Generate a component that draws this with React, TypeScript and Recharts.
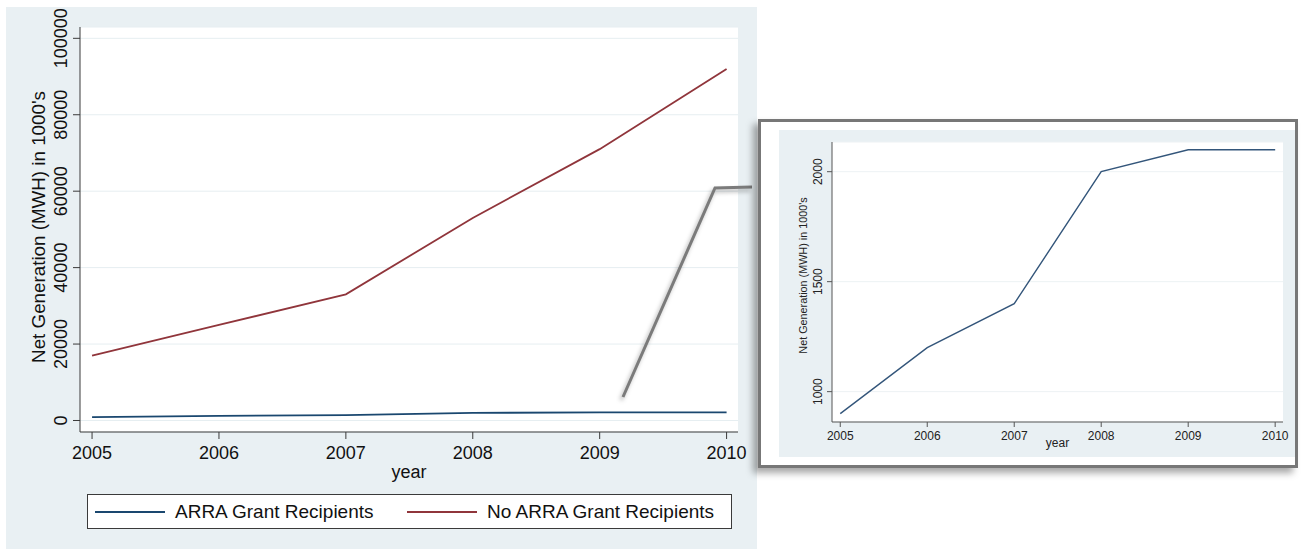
import { LineChart, Line, XAxis, YAxis, CartesianGrid, Legend } from "recharts"

const years = [2005, 2006, 2007, 2008, 2009, 2010]
const arraRecipients = [900, 1200, 1400, 2000, 2100, 2100]
const noArraRecipients = [17000, 25000, 33000, 53000, 71000, 92000]
const mainTicks = [0, 20000, 40000, 60000, 80000, 100000]
const zoomTicks = [1000, 1500, 2000]

const data = years.map((year, i) => ({
  year,
  arra: arraRecipients[i],
  noArra: noArraRecipients[i],
}))

const FONT = '"Liberation Sans", Arial, sans-serif'
const NAVY = "#1a476f"
const MAROON = "#90353b"
const AXIS = "#3a3a3a"
const BG = "#e9f0f3"
const Y_LABEL = "Net Generation (MWH) in 1000's"

// stata-style vertical tick labels on the y axis
function RotatedTick(props: any) {
  const { x, y, payload, fontSize, fill } = props
  return (
    <text
      x={x}
      y={y}
      transform={`rotate(-90 ${x} ${y})`}
      textAnchor="middle"
      fontSize={fontSize}
      fontFamily={FONT}
      fill={fill}
    >
      {payload.value}
    </text>
  )
}

function yTitle(x: number, y: number, size: number, fill: string) {
  return () => (
    <text
      x={x}
      y={y}
      transform={`rotate(-90 ${x} ${y})`}
      textAnchor="middle"
      fontSize={size}
      fontFamily={FONT}
      fill={fill}
    >
      {Y_LABEL}
    </text>
  )
}

const legendOffsets = [7, 319]

function LegendBox(props: any) {
  const { payload = [] } = props
  return (
    <div
      style={{
        position: "relative",
        width: 643,
        height: 33,
        border: `1px solid ${AXIS}`,
        background: "#fff",
        fontFamily: FONT,
      }}
    >
      {payload.map((entry: any, i: number) => (
        <div
          key={entry.value}
          style={{
            position: "absolute",
            left: legendOffsets[i],
            top: 0,
            height: 33,
            display: "flex",
            alignItems: "center",
          }}
        >
          <span style={{ display: "inline-block", width: 70, borderTop: `2px solid ${entry.color}` }} />
          <span style={{ marginLeft: 10, fontSize: 19, color: "#111" }}>{entry.value}</span>
        </div>
      ))}
    </div>
  )
}

function MainChart() {
  return (
    <div style={{ position: "absolute", left: 6, top: 7, width: 751, height: 542, background: BG }}>
      <LineChart width={751} height={542} data={data} margin={{ top: 20, right: 19, bottom: 87, left: 0 }}>
        <CartesianGrid vertical={false} stroke="#e6eef1" fill="#fff" />
        <XAxis
          dataKey="year"
          type="number"
          domain={[2004.905, 2010.09]}
          ticks={years}
          height={30}
          tickSize={7}
          tickMargin={7}
          stroke={AXIS}
          tick={{ fontSize: 18, fill: "#111", fontFamily: FONT }}
          label={{ value: "year", position: "bottom", offset: 3, fontSize: 18, fill: "#111", fontFamily: FONT }}
        />
        <YAxis
          type="number"
          domain={[-3010, 102960]}
          ticks={mainTicks}
          width={74}
          tickSize={7}
          tickMargin={6}
          stroke={AXIS}
          tick={(p: any) => <RotatedTick {...p} fontSize={18} fill="#111" />}
          label={{ content: yTitle(39, 220, 18.8, "#111") }}
        />
        <Legend
          layout="horizontal"
          verticalAlign="middle"
          align="center"
          wrapperStyle={{ left: 81, top: 487, width: 645, height: 35 }}
          content={(p: any) => <LegendBox {...p} />}
        />
        <Line
          dataKey="arra"
          name="ARRA Grant Recipients"
          stroke={NAVY}
          strokeWidth={1.8}
          dot={false}
          isAnimationActive={false}
        />
        <Line
          dataKey="noArra"
          name="No ARRA Grant Recipients"
          stroke={MAROON}
          strokeWidth={1.8}
          dot={false}
          isAnimationActive={false}
        />
      </LineChart>
    </div>
  )
}

function ZoomChart() {
  return (
    <div
      style={{
        position: "absolute",
        left: 758,
        top: 119,
        width: 540,
        height: 349,
        boxSizing: "border-box",
        border: "3px solid #777",
        background: "#fff",
        boxShadow: "-5px 5px 7px rgba(0,0,0,0.35)",
      }}
    >
      <div style={{ position: "absolute", left: 18, top: 8, width: 516, height: 327, background: BG }}>
        <LineChart width={516} height={327} data={data} margin={{ top: 12, right: 12, bottom: 15, left: 0 }}>
          <CartesianGrid vertical={false} stroke="#edf2f4" fill="#fff" />
          <XAxis
            dataKey="year"
            type="number"
            domain={[2004.905, 2010.09]}
            ticks={years}
            height={20}
            tickSize={5}
            tickMargin={4}
            stroke="#555"
            tick={{ fontSize: 12, fill: "#222", fontFamily: FONT }}
            label={{ value: "year", position: "bottom", offset: -4, fontSize: 12, fill: "#222", fontFamily: FONT }}
          />
          <YAxis
            type="number"
            domain={[862, 2135]}
            ticks={zoomTicks}
            width={53}
            tickSize={5}
            tickMargin={5}
            stroke="#555"
            tick={(p: any) => <RotatedTick {...p} fontSize={12} fill="#222" />}
            label={{ content: yTitle(27.5, 145.5, 10.8, "#222") }}
          />
          <Line
            dataKey="arra"
            name="ARRA Grant Recipients"
            stroke="#33557a"
            strokeWidth={1.4}
            dot={false}
            isAnimationActive={false}
          />
        </LineChart>
      </div>
    </div>
  )
}

export default function App() {
  return (
    <div style={{ position: "absolute", left: 0, top: 0, width: 1303, height: 550, background: "#fff" }}>
      <MainChart />
      <svg
        width={1303}
        height={550}
        style={{ position: "absolute", left: 0, top: 0, filter: "drop-shadow(-2px 3px 2px rgba(0,0,0,0.3))" }}
      >
        <polyline points="623,397 715,188 752,187" fill="none" stroke="#7b7b7b" strokeWidth={3} />
      </svg>
      <ZoomChart />
    </div>
  )
}
